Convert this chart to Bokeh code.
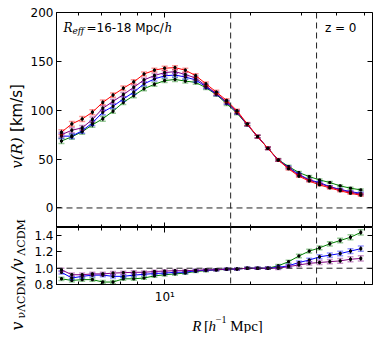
from bokeh.plotting import figure
from bokeh.models import (Range1d, FixedTicker, LinearAxis, LogAxis, Span, Label,
                          PrintfTickFormatter, ColumnDataSource)
from bokeh.layouts import column, row
from bokeh.embed import file_html
from bokeh.resources import INLINE

# ---------------- data ----------------
R = [4.34, 4.72, 5.13, 5.57, 6.06, 6.58, 7.15, 7.78, 8.45, 9.19,
     9.98, 10.85, 11.79, 12.82, 13.93, 15.14, 16.46, 17.89, 19.44, 21.13,
     22.96, 24.96, 27.13, 29.49, 32.05, 34.83, 37.85, 41.14, 44.71, 48.59]

v_lcdm = [77.5, 86, 91, 98, 108, 115.5, 122.5, 129, 137, 141,
          143, 143.6, 141, 135.4, 127, 118.6, 110, 99.5, 86, 73,
          61, 49, 40, 32.5, 27.5, 23.6, 20.5, 17.5, 15, 13]
v_nu_a = [75, 79.5, 82, 90.5, 102, 109, 116, 123.5, 131, 135.5,
          138.5, 139.5, 136.5, 133, 125, 117, 108.5, 98, 85.5, 73,
          61, 49, 41, 33.5, 28.5, 25, 21.5, 18.5, 16, 14]
v_nu_b = [73.5, 73.5, 79, 87, 98, 104, 111.5, 118.5, 127, 132,
          135.2, 136, 134, 131, 124, 116.5, 108, 98, 85.5, 73,
          61, 49, 41.5, 34.5, 28.7, 26, 21.8, 19, 16.7, 15]
v_nu_c = [68.5, 72.8, 78, 85, 91.3, 99, 108, 115, 122, 126.5,
          130.3, 131.5, 129.8, 128.5, 123, 116, 106.7, 97, 85, 73,
          61, 49.5, 42.4, 36.2, 32.1, 28.7, 26, 22.6, 20.2, 18.5]
v_err = [2.5, 2.5, 2.5, 2.5, 2.5, 2.2, 2.2, 2.2, 2.0, 2.0,
         2.0, 2.0, 2.0, 2.0, 1.8, 1.8, 1.8, 1.6, 1.5, 1.4,
         1.3, 1.2, 1.2, 1.1, 1.0, 1.0, 1.0, 1.0, 1.0, 1.0]

r_nu_a = [0.98, 0.92, 0.92, 0.93, 0.93, 0.94, 0.945, 0.95, 0.95, 0.96,
          0.965, 0.97, 0.97, 0.975, 0.98, 0.98, 0.99, 0.99, 1.0, 1.0,
          1.0, 1.0, 1.02, 1.04, 1.06, 1.07, 1.08, 1.09, 1.11, 1.12]
r_nu_b = [0.95, 0.88, 0.90, 0.915, 0.915, 0.90, 0.90, 0.915, 0.925, 0.935,
          0.94, 0.95, 0.95, 0.97, 0.975, 0.98, 0.99, 0.99, 1.0, 1.0,
          1.0, 1.01, 1.03, 1.07, 1.10, 1.14, 1.16, 1.18, 1.21, 1.24]
r_nu_c = [0.87, 0.85, 0.86, 0.86, 0.83, 0.83, 0.87, 0.87, 0.88, 0.905,
          0.92, 0.93, 0.94, 0.96, 0.97, 0.98, 0.985, 0.99, 1.0, 1.0,
          1.0, 1.03, 1.08, 1.15, 1.21, 1.25, 1.30, 1.34, 1.38, 1.44]
r_err = [0.02, 0.02, 0.02, 0.02, 0.02, 0.02, 0.018, 0.018, 0.016, 0.016,
         0.015, 0.015, 0.014, 0.013, 0.012, 0.012, 0.011, 0.011, 0.011, 0.012,
         0.014, 0.016, 0.018, 0.02, 0.022, 0.024, 0.026, 0.028, 0.03, 0.032]

v_ticks = [0, 50, 100, 150, 200]
r_ticks = [0.8, 1.0, 1.2, 1.4]
x_major = [10]
x_minor = [5, 6, 7, 8, 9, 20, 30, 40, 50]
x_lines = [17, 34]

C_RED, C_PUR, C_BLU, C_GRN = "#ff0000", "#800080", "#0000ff", "#008000"

X0, X1 = 4.17, 53.4
V0, V1 = -20, 200
Q0, Q1 = 0.8, 1.5
FONT = "DejaVu Sans"
SERIF = "DejaVu Serif"
STRIP_W = 27
MAIN_W = 349
TOTAL_H = 333


def style_axis(ax, labels):
    ax.major_tick_in = 5
    ax.major_tick_out = 0
    ax.minor_tick_in = 3
    ax.minor_tick_out = 0
    ax.axis_line_color = "black"
    ax.major_tick_line_color = "black"
    ax.minor_tick_line_color = "black"
    ax.major_label_text_font = FONT
    ax.major_label_text_color = "black"
    if labels:
        ax.major_label_text_font_size = "12px"
    else:
        ax.major_label_text_font_size = "1px"
        ax.major_label_text_alpha = 0
        ax.major_label_standoff = 0


def series(p, y, err, color):
    lo = [a - e for a, e in zip(y, err)]
    hi = [a + e for a, e in zip(y, err)]
    src = ColumnDataSource(dict(x=R, y=y, lo=lo, hi=hi))
    p.line("x", "y", source=src, line_color=color, line_width=1)
    p.segment("x", "lo", "x", "hi", source=src, line_color="black", line_width=1)
    p.scatter("x", "lo", source=src, marker="dash", size=6, line_color=color,
              line_alpha=0.4, line_width=1.5)
    p.scatter("x", "hi", source=src, marker="dash", size=6, line_color=color,
              line_alpha=0.4, line_width=1.5)
    p.scatter("x", "y", source=src, marker="square", size=2, color="black")


def make_fig(h, yr, top, bottom):
    p = figure(width=MAIN_W, height=h, x_axis_type="log",
               x_range=Range1d(X0, X1), y_range=yr,
               output_backend="svg", toolbar_location=None,
               min_border_left=27, min_border_right=4,
               min_border_top=top, min_border_bottom=bottom)
    p.grid.visible = False
    p.outline_line_color = "black"
    p.outline_line_alpha = 1
    p.background_fill_color = "white"
    p.border_fill_color = "white"
    return p


def lab(p, x, y, text, xo, yo, font, size, style="normal", align="left"):
    p.add_layout(Label(x=x, y=y, x_offset=xo, y_offset=yo, text=text,
                       text_font=font, text_font_size=size, text_font_style=style,
                       text_align=align, text_baseline="alphabetic",
                       text_color="black"))


def blank_fig(w, h):
    f = figure(width=w, height=h, x_range=Range1d(0, w), y_range=Range1d(0, h),
               output_backend="svg", toolbar_location=None,
               x_axis_location=None, y_axis_location=None,
               min_border_left=0, min_border_right=0,
               min_border_top=0, min_border_bottom=0)
    f.grid.visible = False
    f.outline_line_color = None
    f.background_fill_color = "white"
    f.border_fill_color = "white"
    return f


def ystrip(h, top, bottom, text, font, size, style, standoff):
    """A narrow figure whose (1px) frame sits at its right edge; the text is its
    y-axis label, so it is centred on the frame's vertical extent."""
    f = figure(width=STRIP_W, height=h, x_range=Range1d(0, 1), y_range=Range1d(0, 1),
               output_backend="svg", toolbar_location=None,
               x_axis_location=None, y_axis_location="left",
               min_border_left=STRIP_W - 1, min_border_right=0,
               min_border_top=top, min_border_bottom=bottom)
    f.grid.visible = False
    f.outline_line_color = None
    f.background_fill_color = "white"
    f.border_fill_color = "white"
    ax = f.yaxis[0]
    ax.ticker = FixedTicker(ticks=[])
    ax.major_tick_in = 0
    ax.major_tick_out = 0
    ax.minor_tick_in = 0
    ax.minor_tick_out = 0
    ax.major_label_standoff = 0
    ax.axis_line_color = None
    ax.major_tick_line_color = None
    ax.minor_tick_line_color = None
    ax.axis_label = text
    ax.axis_label_text_font = font
    ax.axis_label_text_font_size = size
    ax.axis_label_text_font_style = style
    ax.axis_label_text_color = "black"
    ax.axis_label_standoff = standoff
    return f


# ---------------- top panel ----------------
p1 = make_fig(227, Range1d(V0, V1), 12, 0)
p1.xaxis.ticker = FixedTicker(ticks=x_major, minor_ticks=x_minor)
style_axis(p1.xaxis[0], False)
p1.xaxis.fixed_location = V0
p1.yaxis.ticker = FixedTicker(ticks=v_ticks)
style_axis(p1.yaxis[0], True)
p1.yaxis.major_label_standoff = 3
p1.yaxis.minor_tick_line_color = None
ra = LinearAxis(ticker=FixedTicker(ticks=v_ticks), fixed_location=X1)
style_axis(ra, False)
ra.minor_tick_line_color = None
p1.add_layout(ra, "right")
ta = LogAxis(ticker=FixedTicker(ticks=x_major, minor_ticks=x_minor), fixed_location=V1)
style_axis(ta, False)
p1.add_layout(ta, "above")

for xl in x_lines:
    p1.add_layout(Span(location=xl, dimension="height", line_color="#222222",
                       line_dash="6 4", line_width=1))
p1.add_layout(Span(location=0, dimension="width", line_color="#222222",
                   line_dash="6 4", line_width=1))

series(p1, v_nu_c, v_err, C_GRN)
series(p1, v_nu_b, v_err, C_BLU)
series(p1, v_nu_a, v_err, C_PUR)
series(p1, v_lcdm, v_err, C_RED)

lab(p1, X0, V1, "R", 7, -15, SERIF, "12px", "italic")
lab(p1, X0, V1, "eff", 16, -18, SERIF, "9px", "italic")
lab(p1, X0, V1, "=16-18 Mpc/", 30, -15, FONT, "12px")
lab(p1, X0, V1, "h", 108, -15, SERIF, "12px", "italic")
lab(p1, X1, V1, "z = 0", -16, -15, FONT, "12px", align="right")

# ---------------- bottom panel ----------------
p2 = make_fig(79, Range1d(Q0, Q1), 0, 18)
p2.xaxis.ticker = FixedTicker(ticks=x_major, minor_ticks=x_minor)
style_axis(p2.xaxis[0], True)
p2.xaxis.major_label_overrides = {10: "10\u00b9"}
p2.xaxis.major_label_standoff = 5
p2.yaxis.ticker = FixedTicker(ticks=r_ticks)
style_axis(p2.yaxis[0], True)
p2.yaxis.formatter = PrintfTickFormatter(format="%.1f")
p2.yaxis.major_label_standoff = 3
p2.yaxis.minor_tick_line_color = None
ra2 = LinearAxis(ticker=FixedTicker(ticks=r_ticks), fixed_location=X1)
style_axis(ra2, False)
ra2.minor_tick_line_color = None
p2.add_layout(ra2, "right")
ta2 = LogAxis(ticker=FixedTicker(ticks=x_major, minor_ticks=x_minor), fixed_location=Q1)
style_axis(ta2, False)
p2.add_layout(ta2, "above")

for xl in x_lines:
    p2.add_layout(Span(location=xl, dimension="height", line_color="#222222",
                       line_dash="6 4", line_width=1))
p2.add_layout(Span(location=1.0, dimension="width", line_color="#222222",
                   line_dash="6 4", line_width=1))

series(p2, r_nu_c, r_err, C_GRN)
series(p2, r_nu_b, r_err, C_BLU)
series(p2, r_nu_a, r_err, C_PUR)

# ---------------- x label strip ----------------
xf = blank_fig(MAIN_W, TOTAL_H - 227 - 79)
lab(xf, 150, 8, "R", 0, 0, "Liberation Serif", "15px", "italic")
lab(xf, 163, 8, "[", 0, 0, "Liberation Serif", "15px")
lab(xf, 168, 8, "h", 0, 0, "Liberation Serif", "15px", "italic")
lab(xf, 176, 14, "\u22121", 0, 0, "Liberation Serif", "10px")
lab(xf, 192, 8, "Mpc]", 0, 0, "Liberation Serif", "15px")

# ---------------- y label strips (stacked, top to bottom) ----------------
strips = [
    ystrip(134, 83, 2, "[km/s]", FONT, "15px", "normal", 1),
    ystrip(66, 3, 32, "v(R)", SERIF, "15px", "italic", 1),
    ystrip(56, 19, 1, "\u039bCDM", SERIF, "11px", "normal", -1),
    ystrip(18, 0, 0, "/v", SERIF, "16px", "italic", 0),
    ystrip(45, 0, 0, "\u03bd\u039bCDM", SERIF, "11px", "normal", -1),
    ystrip(14, 0, 1, "v", SERIF, "16px", "italic", 0),
]

layout = row(column(*strips, spacing=0), column(p1, p2, xf, spacing=0), spacing=0)
open("out.html", "w").write(file_html(layout, INLINE))
